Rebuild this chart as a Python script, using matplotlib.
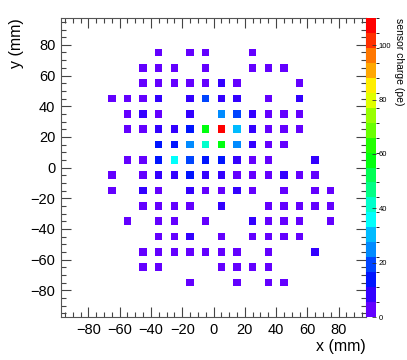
import colorsys
import matplotlib
matplotlib.use('Agg')
import matplotlib.pyplot as plt
import numpy as np
from matplotlib.colors import ListedColormap, BoundaryNorm
from matplotlib.ticker import MultipleLocator

row_y = [75, 65, 55, 45, 35, 25, 15, 5, -5, -15, -25, -35, -45, -55, -65, -75]
row_x = [
    [-35, -15, -5, 25],
    [-45, -35, -25, -5, 25, 35, 45],
    [-45, -35, -25, -15, -5, 5, 15, 55],
    [-65, -55, -45, -35, -15, -5, 5, 15, 35, 55],
    [-55, -45, -35, -15, 5, 15, 25, 35, 45, 55],
    [-55, -45, -35, -25, -15, -5, 5, 15, 25, 35, 45, 55],
    [-35, -25, -15, -5, 5, 15, 25, 35, 45],
    [-55, -45, -35, -25, -15, -5, 5, 15, 25, 35, 65],
    [-65, -45, -35, -25, -15, -5, 5, 15, 25, 35, 45, 55, 65],
    [-65, -45, -35, -15, -5, 5, 15, 25, 45, 65, 75],
    [-45, -35, -25, -15, 5, 35, 45, 55, 65, 75],
    [-55, -35, -25, -5, 25, 35, 45, 55, 75],
    [-35, -25, -15, 5, 25, 35, 45, 55],
    [-45, -35, -25, -15, -5, 5, 15, 35, 65],
    [-45, -35, 5, 15, 25, 35],
    [-15, 15, 35, 45],
]
row_q = [
    [3, 2, 4, 2],
    [2, 3, 4, 4, 3, 2, 3],
    [3, 4, 3, 4, 5, 8, 5, 3],
    [3, 2, 4, 8, 9, 19, 9, 7, 4, 7],
    [3, 8, 5, 8, 25, 19, 9, 4, 3, 4],
    [3, 4, 9, 8, 14, 58, 110, 31, 9, 5, 4, 3],
    [15, 14, 25, 41, 57, 24, 8, 5, 3],
    [3, 4, 14, 36, 19, 14, 15, 9, 5, 4, 8],
    [3, 4, 8, 9, 14, 9, 8, 5, 4, 3, 8, 2, 3],
    [2, 8, 4, 9, 5, 4, 8, 3, 3, 2, 3],
    [3, 4, 3, 5, 8, 4, 3, 2, 3, 2],
    [3, 4, 3, 4, 8, 3, 4, 2, 3],
    [2, 3, 8, 4, 3, 4, 3, 2],
    [3, 2, 4, 3, 4, 3, 2, 3, 7],
    [2, 3, 3, 2, 4, 3],
    [2, 3, 2, 3],
]

z_max = 110
n_contours = 20
cbar_ticks = [0, 20, 40, 60, 80, 100]


def pretty_palette(ncont, ncol=50):
    # ROOT "pretty palette": HLS hue scan violet -> red
    cols = []
    for i in range(ncont):
        k = int((i + 0.99) * ncol / ncont)
        hue = 280.0 - (k + 1) * 280.0 / ncol
        cols.append(colorsys.hls_to_rgb(hue / 360.0, 0.5, 1.0))
    return ListedColormap(cols)


xs = [x for xr in row_x for x in xr]
ys = [y for y, xr in zip(row_y, row_x) for _ in xr]
qs = [q for qr in row_q for q in qr]

plt.rcParams['font.family'] = ['Liberation Sans', 'DejaVu Sans']
cmap = pretty_palette(n_contours)
norm = BoundaryNorm(np.linspace(0, z_max, n_contours + 1), cmap.N)

W, H = 407, 360
fig = plt.figure(figsize=(W / 100, H / 100), dpi=100)
ax = fig.add_axes([61 / W, 43 / H, 305 / W, 299 / H])
cax = fig.add_axes([366 / W, 43 / H, 10 / W, 299 / H])

sc = ax.scatter(xs, ys, c=qs, cmap=cmap, norm=norm, marker='s', s=28,
                linewidths=0)

ax.set_xlim(-97.5, 97.5)
ax.set_ylim(-97.5, 97.5)
ax.xaxis.set_major_locator(MultipleLocator(20))
ax.yaxis.set_major_locator(MultipleLocator(20))
ax.xaxis.set_minor_locator(MultipleLocator(5))
ax.yaxis.set_minor_locator(MultipleLocator(5))
ax.tick_params(which='both', direction='in', top=True, right=True,
               color='#444444', width=0.8, labelsize=10.5, pad=4)
ax.tick_params(which='major', length=7)
ax.tick_params(which='minor', length=3.5)
for sp in ax.spines.values():
    sp.set_color('#555555')
    sp.set_linewidth(0.8)

cb = fig.colorbar(sc, cax=cax, ticks=cbar_ticks)
cb.outline.set_visible(False)
cax.tick_params(direction='in', length=3, width=0.6, color='#333333',
                labelsize=5.5, pad=2)

fig.text(366 / W, 1 - 347 / H, 'x (mm)', ha='right', va='center', fontsize=11.5)
fig.text(17 / W, 1 - 18 / H, 'y (mm)', ha='center', va='top', rotation=90,
         fontsize=11.5)
fig.text(399 / W, 1 - 18 / H, 'sensor charge (pe)', ha='center', va='top',
         rotation=-90, fontsize=7.5)

fig.savefig('out.png', dpi=100)
